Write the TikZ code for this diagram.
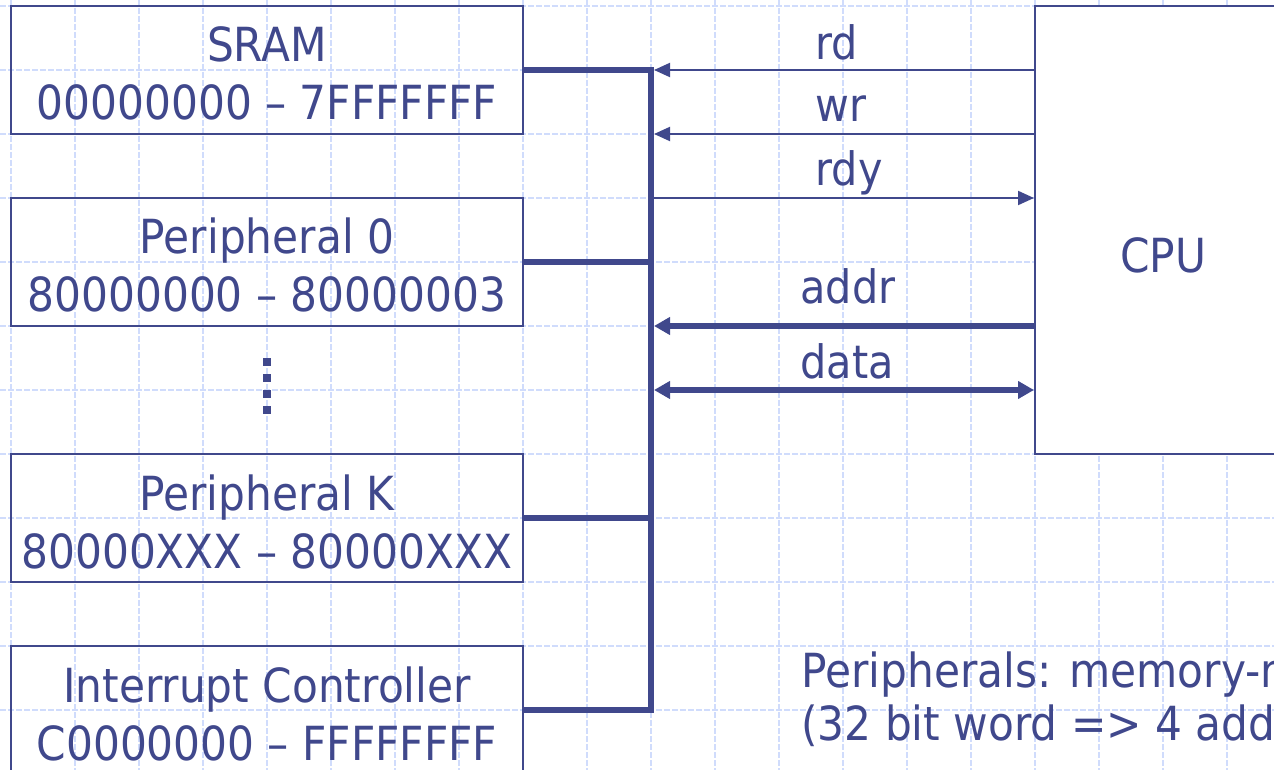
\documentclass[tikz,border=0pt]{standalone}
\usepackage{fontspec}
\setmainfont[FakeStretch=0.9]{DejaVu Sans}
\usetikzlibrary{arrows.meta, positioning}
\definecolor{ink}{RGB}{64,72,140}
\definecolor{gridblue}{RGB}{208,220,252}

\begin{document}
\begin{tikzpicture}[
    x=0.5pt, y=-0.5pt,
    box/.style={draw=ink, line width=1pt, minimum width=256pt, minimum height=64pt,
                inner sep=0pt, align=center, text=ink, font=\fontsize{23.5}{29}\selectfont,
                text height=50pt, text depth=0pt},
    cpubox/.style={draw=ink, fill=white, line width=1pt, minimum width=128pt, minimum height=224pt,
                inner sep=0pt, text=ink, font=\fontsize{23.5}{29}\selectfont,
                text height=42pt, text depth=0pt},
    lbl/.style={anchor=base west, inner sep=0pt, text=ink, font=\fontsize{23}{29}\selectfont},
    note/.style={anchor=base west, inner sep=0pt, align=left, text=ink,
                font=\fontsize{23.5}{26.5}\selectfont},
    gridline/.style={draw=gridblue, line width=0.75pt, dash pattern=on 3pt off 1pt},
    sig/.style={draw=ink, line width=1pt},
    wide/.style={draw=ink, line width=2.75pt},
    bus/.style={draw=ink, line width=2.75pt},
    tip/.style={-{Triangle[length=8pt, width=7pt]}},
    bigtip/.style={-{Triangle[length=8pt, width=8.5pt]}},
    bigtips/.style={{Triangle[length=8pt, width=8.5pt]}-{Triangle[length=8pt, width=8.5pt]}},
]
\useasboundingbox (0,0) rectangle (1274,770);
\clip (0,0) rectangle (1274,770);

% background grid
\foreach \gx in {11,75,...,1291} \draw[gridline] (\gx,0) -- (\gx,770);
\foreach \gy in {6,70,...,774} \draw[gridline] (0,\gy) -- (1274,\gy);

% memory map
\node[box] (sram)  at (267,70)  {SRAM\\00000000 -- 7FFFFFFF};
\node[box] (per0)  at (267,262) {Peripheral 0\\80000000 -- 80000003};
\node[box] (perk)  at (267,518) {Peripheral K\\80000XXX -- 80000XXX};
\node[box] (intc)  at (267,710) {Interrupt Controller\\C0000000 -- FFFFFFFF};
\draw[ink, line width=4pt, dash pattern=on 4pt off 4pt] (267,358) -- (267,414);

\node[cpubox] (cpu) at (1163,230) {CPU};

% bus
\coordinate (busbot) at (651,710);
\draw[bus] (sram.east) -| (busbot) -- (intc.east);
\draw[bus] (per0.east) -- (per0.east -| busbot);
\draw[bus] (perk.east) -- (perk.east -| busbot);

% cpu signals
\coordinate (rdbus)   at (654,70);
\coordinate (wrbus)   at (654,134);
\coordinate (rdybus)  at (654,198);
\coordinate (addrbus) at (654,326);
\coordinate (databus) at (654,390);

\draw[sig, tip] (cpu.west |- rdbus) -- (rdbus);
\draw[sig, tip] (cpu.west |- wrbus) -- (wrbus);
\draw[sig, tip] (rdybus) -- (cpu.west |- rdybus);
\draw[wide, bigtip] (cpu.west |- addrbus) -- (addrbus);
\draw[wide, bigtips] (databus) -- (cpu.west |- databus);

\node[lbl] (rdlbl)   at (815,60)  {rd};
\node[lbl] (wrlbl)   at (815,122) {wr};
\node[lbl] (rdylbl)  at (815,186) {rdy};
\node[lbl] (addrlbl) at (800,304) {addr};
\node[lbl] (datalbl) at (800,378) {data};

\node[note] (notes) at (801,740) {Peripherals: memory-mapped\\(32 bit word => 4 addresses)};
\end{tikzpicture}
\end{document}
